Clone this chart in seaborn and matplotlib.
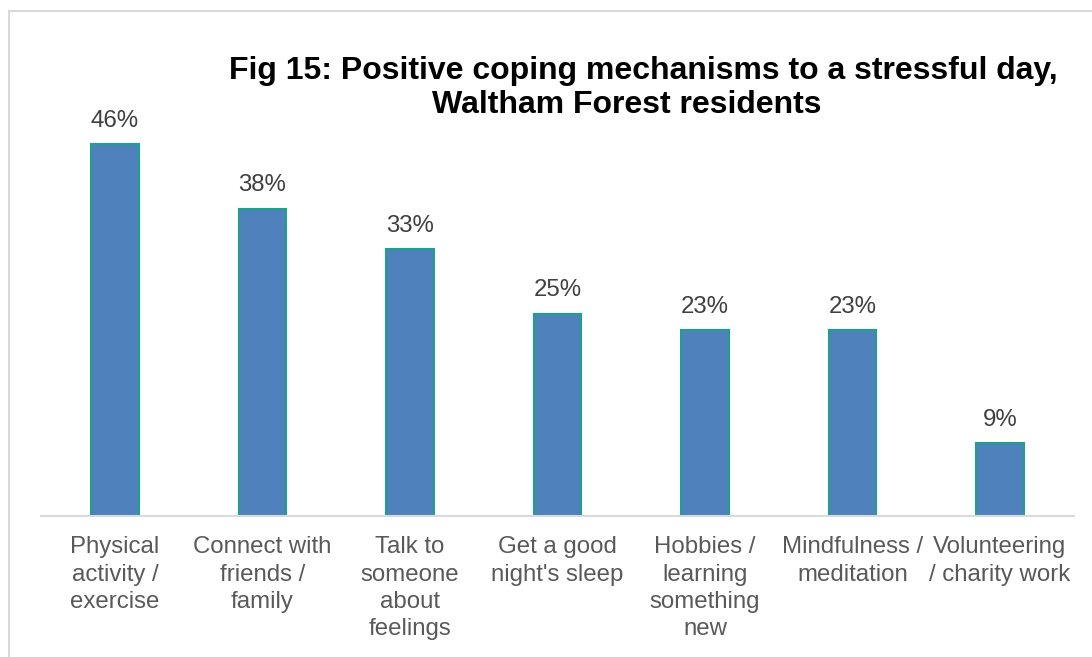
import matplotlib
matplotlib.use("Agg")
import matplotlib.pyplot as plt
import matplotlib.patches as mpatches
import seaborn as sns
import pandas as pd

categories = [
    "Physical\nactivity /\nexercise",
    "Connect with\nfriends /\nfamily",
    "Talk to\nsomeone\nabout\nfeelings",
    "Get a good\nnight's sleep",
    "Hobbies /\nlearning\nsomething\nnew",
    "Mindfulness /\nmeditation",
    "Volunteering\n/ charity work",
]
values = [46, 38, 33, 25, 23, 23, 9]
value_labels = ["46%", "38%", "33%", "25%", "23%", "23%", "9%"]
title_lines = ["Fig 15: Positive coping mechanisms to a stressful day,",
               "Waltham Forest residents"]

sns.set_theme(style="white")
plt.rcParams["font.family"] = ["Liberation Sans", "DejaVu Sans"]

W, H = 1092, 657
fig = plt.figure(figsize=(W / 100, H / 100), dpi=100)
ax_left, ax_right = 41.25, 1073.75
ax_top, ax_bottom = 112, 516
ax = fig.add_axes([ax_left / W, 1 - ax_bottom / H, (ax_right - ax_left) / W, (ax_bottom - ax_top) / H])

df = pd.DataFrame({"cat": categories, "val": values})
sns.barplot(data=df, x="cat", y="val", ax=ax, color="#4F81BD", saturation=1,
            width=0.325, edgecolor="#1FA08A", linewidth=1.5)
ax.set_ylim(0, 50)
ax.set_xlim(-0.5, len(categories) - 0.5)
ax.set_xlabel("")
ax.set_ylabel("")
ax.set_yticks([])
for s in ["top", "right", "left"]:
    ax.spines[s].set_visible(False)
ax.spines["bottom"].set_color("#D9D9D9")
ax.spines["bottom"].set_linewidth(1.5)
ax.tick_params(axis="x", length=0, pad=14.5, labelsize=17.25, labelcolor="#595959")
for lbl in ax.get_xticklabels():
    lbl.set_linespacing(1.32)
    lbl.set_verticalalignment("top")

for i, (v, t) in enumerate(zip(values, value_labels)):
    ax.annotate(t, (i, v), xytext=(0, 9), textcoords="offset points",
                ha="center", va="bottom", fontsize=17.25, color="#404040")

fig.text(643 / W, 1 - 79 / H, title_lines[0], ha="center", va="baseline", fontsize=23,
         fontweight="bold", color="black")
fig.text(627 / W, 1 - 113 / H, title_lines[1], ha="center", va="baseline", fontsize=23,
         fontweight="bold", color="black")

fig.patches.append(mpatches.Rectangle((8.5 / W, -0.1), 1.2, 1 - 10.5 / H + 0.1,
                                      transform=fig.transFigure, fill=False,
                                      edgecolor="#D9D9D9", linewidth=1.5))

fig.savefig("out.png", dpi=100, facecolor="white")
